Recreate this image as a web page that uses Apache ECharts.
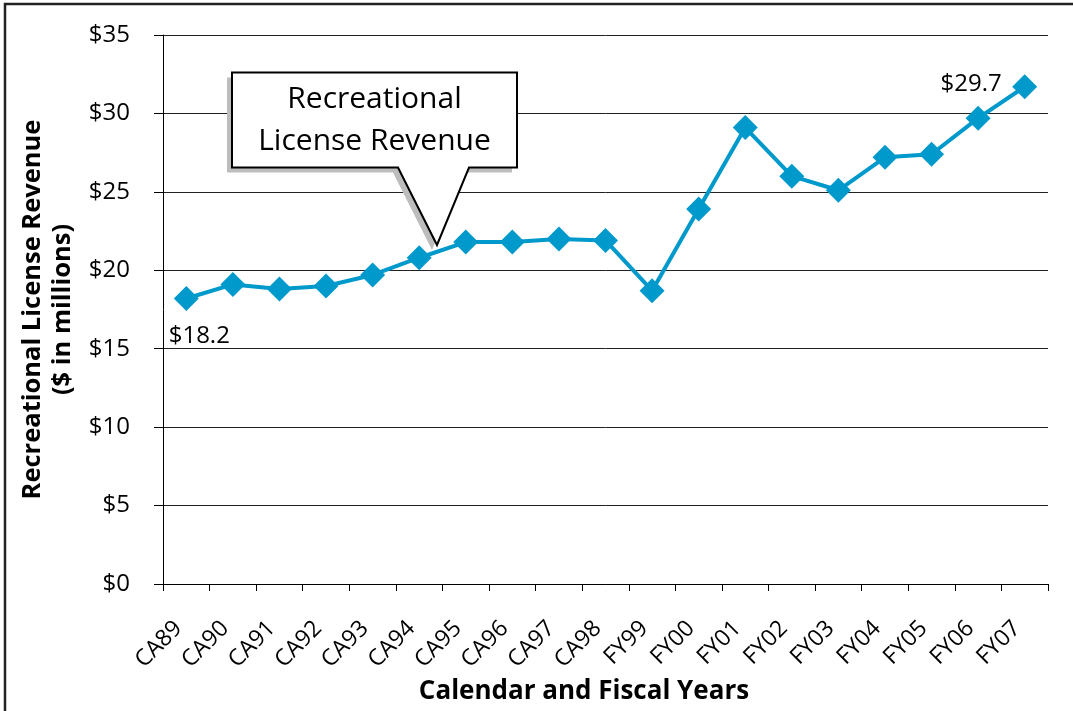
<!DOCTYPE html>
<html>
<head>
<meta charset="utf-8">
<title>Recreational License Revenue</title>
<script src="https://cdn.jsdelivr.net/npm/echarts@6.0.0/dist/echarts.min.js"></script>
<style>
  html, body { margin: 0; padding: 0; background: #fff; }
  #main { width: 1073px; height: 711px; }
</style>
</head>
<body>
<div id="main"></div>
<script>
// data ($ millions)
var years = ['CA89', 'CA90', 'CA91', 'CA92', 'CA93', 'CA94', 'CA95', 'CA96', 'CA97', 'CA98',
  'FY99', 'FY00', 'FY01', 'FY02', 'FY03', 'FY04', 'FY05', 'FY06', 'FY07'];
var revenue = [18.2, 19.1, 18.8, 19.0, 19.7, 20.8, 21.8, 21.8, 22.0, 21.9,
  18.7, 23.9, 29.1, 26.0, 25.1, 27.2, 27.4, 29.7, 31.7];
var labelledYears = ['CA89', 'FY06'];
var yTitle = ['Recreational License Revenue', '($ in millions)'];
var xTitle = 'Calendar and Fiscal Years';
var calloutText = ['Recreational', 'License Revenue'];

var FONT = '"Open Sans", "Liberation Sans", sans-serif';
var BLUE = '#0099cc';

var chart = echarts.init(document.getElementById('main'), null, {renderer: 'canvas'});

// only two points carry a value label
var labelStyle = {
  CA89: {position: 'bottom', offset: [13, 8]},
  FY06: {position: 'top', offset: [-7, -4]}
};
var seriesData = revenue.map(function (v, i) {
  var name = years[i];
  if (labelledYears.indexOf(name) < 0) return v;
  return {
    value: v,
    label: {
      show: true,
      position: labelStyle[name].position,
      offset: labelStyle[name].offset,
      formatter: function (p) { return '$' + p.value.toFixed(1); },
      fontFamily: FONT,
      fontSize: 24,
      color: '#000'
    }
  };
});

// callout box with pointer (annotation, not a data mark)
var box = [[232, 72.5], [517, 72.5], [517, 167.5], [469, 167.5], [437, 245], [398, 167.5], [232, 167.5]];
var shadow = box.map(function (p) { return [p[0] - 5, p[1] + 5]; });

chart.setOption({
  animation: false,
  backgroundColor: '#fff',
  grid: {
    left: 163, right: 25, top: 35, bottom: 127,
    containLabel: false,
    outerBoundsMode: 'none'
  },
  xAxis: {
    type: 'category',
    data: years,
    boundaryGap: true,
    axisLine: {lineStyle: {color: '#000', width: 1}},
    axisTick: {show: true, length: 7, alignWithLabel: false, lineStyle: {color: '#000'}},
    axisLabel: {
      interval: 0,
      rotate: 45,
      margin: 33,
      padding: [0, 11, 0, 0],
      fontFamily: FONT,
      fontSize: 23,
      color: '#000'
    },
    name: xTitle,
    nameLocation: 'middle',
    nameGap: 92,
    nameTextStyle: {
      fontFamily: FONT,
      fontWeight: 'bold',
      fontSize: 26,
      color: '#000',
      padding: [0, 43, 0, 0]
    }
  },
  yAxis: {
    type: 'value',
    min: 0,
    max: 35,
    interval: 5,
    axisLine: {show: true, lineStyle: {color: '#000', width: 1}},
    axisTick: {show: true, length: 9, lineStyle: {color: '#000'}},
    splitLine: {show: true, lineStyle: {color: '#222', width: 1}},
    axisLabel: {
      margin: 33,
      formatter: function (v) { return '$' + v; },
      fontFamily: FONT,
      fontSize: 24,
      color: '#000'
    },
    name: yTitle.join('\n'),
    nameLocation: 'middle',
    nameRotate: 90,
    nameGap: 83,
    nameTextStyle: {
      fontFamily: FONT,
      fontWeight: 'bold',
      fontSize: 25.5,
      lineHeight: 30,
      align: 'center',
      color: '#000'
    }
  },
  series: [{
    type: 'line',
    data: seriesData,
    symbol: 'diamond',
    symbolSize: 25,
    showSymbol: true,
    lineStyle: {color: BLUE, width: 4},
    itemStyle: {color: BLUE},
    emphasis: {disabled: true},
    z: 3
  }],
  graphic: [
    // frame, only left and top edges are in view
    {
      type: 'rect', z: 100, silent: true,
      shape: {x: 5, y: 4, width: 2000, height: 2000},
      style: {fill: null, stroke: '#222', lineWidth: 2.5}
    },
    {
      type: 'polygon', z: 100, silent: true,
      shape: {points: shadow},
      style: {fill: '#bdbdbd', stroke: null}
    },
    {
      type: 'polygon', z: 101, silent: true,
      shape: {points: box},
      style: {fill: '#fff', stroke: '#000', lineWidth: 2}
    },
    {
      type: 'text', z: 102, silent: true,
      style: {
        text: calloutText.join('\n'),
        x: 374.5,
        y: 120,
        textAlign: 'center',
        textVerticalAlign: 'middle',
        font: '30px ' + FONT,
        lineHeight: 42,
        fill: '#000'
      }
    }
  ]
});
</script>
</body>
</html>
